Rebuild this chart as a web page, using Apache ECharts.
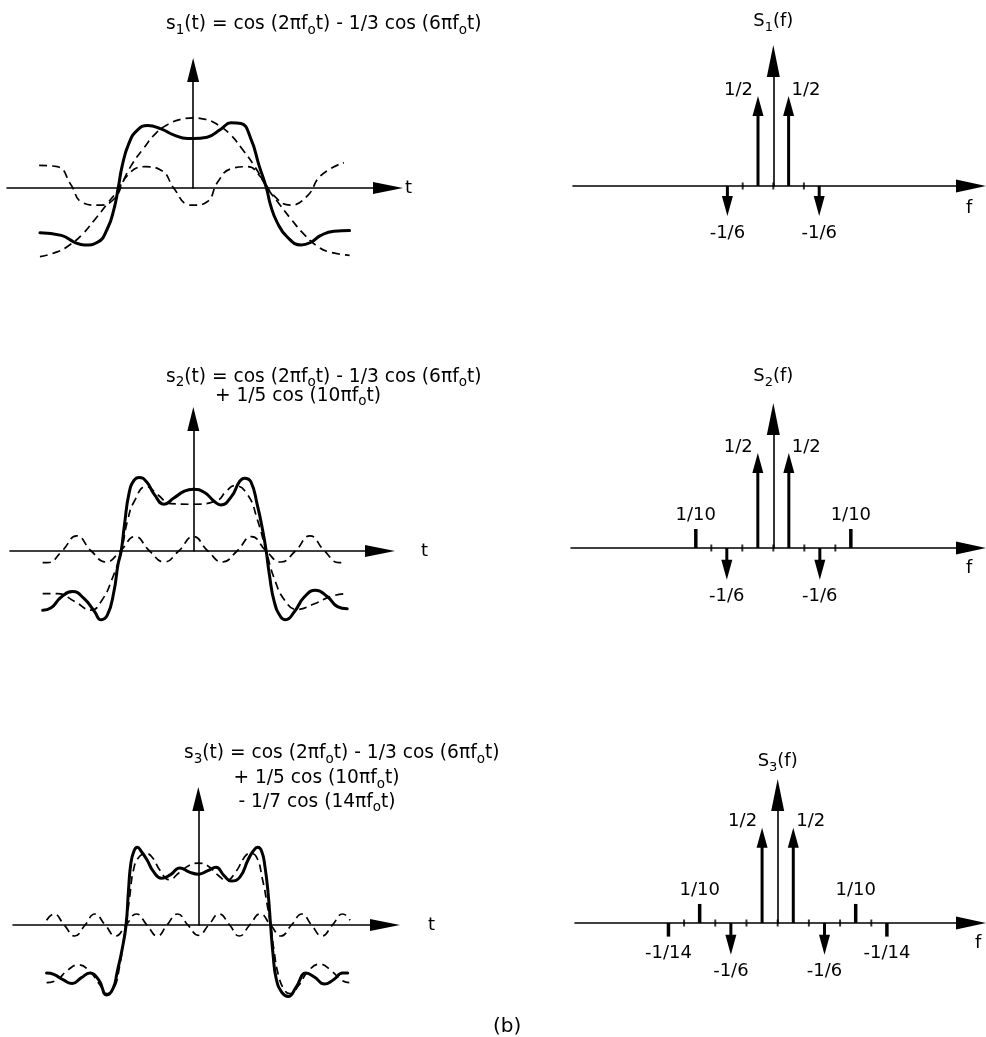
<!DOCTYPE html>
<html><head><meta charset="utf-8">
<script src="https://cdn.jsdelivr.net/npm/echarts@6/dist/echarts.min.js"></script>
<style>html,body{margin:0;padding:0;background:#fff}#c{width:986px;height:1037px}</style>
</head><body><div id="c"></div>
<script>
// ---------- DATA (phase 2*pi*fo*t in degrees, amplitude) ----------
const p1Sum = [[-186,-0.65],[-160,-0.69],[-144,-0.79],[-132,-0.83],[-116,-0.79],[-104,-0.59],[-96,-0.30],[-91,0],[-86,0.33],[-78,0.65],[-68,0.84],[-55,0.91],[-39,0.86],[-23,0.77],[-7,0.72],[0,0.72],[17,0.74],[34,0.86],[46,0.95],[58,0.94],[70,0.72],[80,0.33],[89,0],[94,-0.25],[102,-0.50],[114,-0.71],[131,-0.83],[143,-0.79],[155,-0.69],[171,-0.63],[190,-0.62]];
const p1Cos = [[-186,-1.0],[-165,-0.93],[-150,-0.83],[-135,-0.68],[-120,-0.47],[-105,-0.24],[-90,0],[-75,0.33],[-60,0.58],[-45,0.80],[-30,0.93],[-15,1.0],[0,1.02],[15,1.0],[30,0.92],[45,0.78],[60,0.56],[75,0.31],[90,0],[105,-0.24],[120,-0.47],[135,-0.68],[150,-0.84],[165,-0.93],[190,-0.98]];
const p1H3 = [[-187,0.33],[-165,0.31],[-148,0.04],[-136,-0.2],[-116,-0.25],[-96,-0.16],[-80,0.18],[-59,0.31],[-39,0.26],[-23,-0.01],[-7,-0.24],[0,-0.25],[17,-0.2],[30,0.09],[46,0.28],[66,0.31],[82,0.16],[98,-0.11],[118,-0.25],[139,-0.11],[155,0.18],[183,0.37]];

const p2Sum = [[-186,-0.86],[-176,-0.83],[-163,-0.67],[-149,-0.59],[-135,-0.69],[-122,-0.88],[-114,-1.0],[-106,-0.93],[-98,-0.59],[-93,-0.2],[-89,0],[-85,0.38],[-79,0.86],[-73,1.03],[-67,1.07],[-58,1.01],[-48,0.82],[-36,0.68],[-24,0.77],[-11,0.87],[0,0.90],[14,0.85],[26,0.72],[34,0.67],[47,0.79],[57,1.01],[63,1.06],[71,1.01],[79,0.67],[86,0.28],[90,0],[94,-0.35],[100,-0.74],[108,-0.96],[114,-1.0],[125,-0.88],[137,-0.67],[151,-0.57],[166,-0.67],[178,-0.81],[190,-0.84]];
const p2Prev = [[-186,-0.62],[-168,-0.62],[-147,-0.73],[-126,-0.86],[-113,-0.72],[-100,-0.40],[-89,0],[-81,0.45],[-73,0.72],[-58,0.94],[-44,0.82],[-28,0.69],[0,0.68],[30,0.74],[40,0.86],[51,0.95],[67,0.82],[79,0.46],[90,0],[100,-0.40],[113,-0.72],[128,-0.85],[149,-0.77],[170,-0.66],[190,-0.62]];
const p2H5 = [[-186,-0.17],[-180,-0.17],[-162,0],[-144,0.22],[-126,0],[-108,-0.16],[-90,0],[-72,0.21],[-54,0],[-36,-0.16],[-18,0],[0,0.21],[18,0],[36,-0.16],[54,0],[72,0.21],[90,0],[108,-0.16],[126,0],[144,0.22],[162,0],[180,-0.17],[187,-0.16]];

const p3Sum = [[-189,-0.70],[-180,-0.72],[-168,-0.80],[-157,-0.85],[-146,-0.77],[-135,-0.70],[-124,-0.80],[-114,-1.02],[-106,-0.92],[-101,-0.68],[-95,-0.36],[-90,0],[-87,0.5],[-84,0.9],[-80,1.08],[-76,1.13],[-71,1.07],[-64,0.95],[-56,0.78],[-46,0.68],[-35,0.73],[-23,0.83],[-11,0.77],[0,0.74],[12,0.79],[22,0.84],[32,0.72],[41,0.64],[52,0.70],[62,0.95],[68,1.07],[74,1.13],[79,1.07],[83,0.85],[87,0.45],[90,0],[93,-0.42],[97,-0.78],[104,-0.98],[112,-1.04],[122,-0.9],[134,-0.70],[145,-0.76],[157,-0.86],[168,-0.80],[180,-0.70],[186,-0.70]];
const p3Prev = [[-189,-0.84],[-176,-0.80],[-163,-0.66],[-149,-0.58],[-135,-0.68],[-122,-0.88],[-113,-1.0],[-105,-0.92],[-98,-0.6],[-93,-0.22],[-90,0],[-86,0.36],[-80,0.84],[-73,1.0],[-65,1.04],[-57,0.98],[-48,0.8],[-36,0.66],[-24,0.76],[-11,0.87],[0,0.9],[12,0.86],[25,0.72],[35,0.65],[47,0.78],[57,0.98],[64,1.04],[72,1.0],[80,0.66],[86,0.28],[90,0],[94,-0.35],[100,-0.74],[108,-0.96],[114,-1.0],[125,-0.88],[137,-0.67],[151,-0.57],[166,-0.67],[178,-0.8],[188,-0.84]];
const p3H7 = [[-189,0.07],[-180,0.16],[-167,0],[-154,-0.16],[-141,0],[-129,0.16],[-116,0],[-103,-0.16],[-90,0],[-77,0.16],[-64,0],[-51,-0.16],[-39,0],[-26,0.16],[-13,0],[0,-0.15],[13,0],[26,0.16],[39,0],[51,-0.16],[64,0],[77,0.16],[90,0],[103,-0.16],[116,0],[129,0.16],[141,0],[154,-0.16],[167,0],[180,0.16],[189,0.07]];

// spectra: harmonic number (multiples of fo), amplitude, label
const s1Freq = [-3,-1,1,3];
const s1Amp  = [-1/6,1/2,1/2,-1/6];
const s1Lab  = ['-1/6','1/2','1/2','-1/6'];
const s1Ticks = [-2,0,2];
const s2Freq = [-5,-3,-1,1,3,5];
const s2Amp  = [1/10,-1/6,1/2,1/2,-1/6,1/10];
const s2Lab  = ['1/10','-1/6','1/2','1/2','-1/6','1/10'];
const s2Ticks = [-4,-2,0,2,4];
const s3Freq = [-7,-5,-3,-1,1,3,5,7];
const s3Amp  = [-1/14,1/10,-1/6,1/2,1/2,-1/6,1/10,-1/14];
const s3Lab  = ['-1/14','1/10','-1/6','1/2','1/2','-1/6','1/10','-1/14'];
const s3Ticks = [-6,-4,-2,0,2,4,6];

// texts
const eq1  = '{n|s}{s|1}{n|(t) = cos (2πf}{s|o}{n|t) - 1/3 cos (6πf}{s|o}{n|t)}';
const eq2a = '{n|s}{s|2}{n|(t) = cos (2πf}{s|o}{n|t) - 1/3 cos (6πf}{s|o}{n|t)}';
const eq2b = '{n|+ 1/5 cos (10πf}{s|o}{n|t)}';
const eq3a = '{n|s}{s|3}{n|(t) = cos (2πf}{s|o}{n|t) - 1/3 cos (6πf}{s|o}{n|t)}';
const eq3b = '{n|+ 1/5 cos (10πf}{s|o}{n|t)}';
const eq3c = '{n|- 1/7 cos (14πf}{s|o}{n|t)}';
const specNames = ['{n|S}{s|1}{n|(f)}','{n|S}{s|2}{n|(f)}','{n|S}{s|3}{n|(f)}'];
const timeName = 't';
const freqName = '{n|f}';
const caption = '{c|(b)}';

// ---------- STYLE / LAYOUT ----------
const FONT = 'DejaVu Sans';
const INK = '#000';
const RICH = {
  n: {fontFamily: FONT, fontSize: 18, fontWeight: 'normal', lineHeight: 22, verticalAlign: 'top', color: INK},
  s: {fontFamily: FONT, fontSize: 13, fontWeight: 'normal', lineHeight: 13, verticalAlign: 'bottom', color: INK}
};
const RICH_EQ = {
  n: {fontFamily: FONT, fontSize: 18.6, fontWeight: 'normal', lineHeight: 22, verticalAlign: 'top', color: INK},
  s: {fontFamily: FONT, fontSize: 13.5, fontWeight: 'normal', lineHeight: 13, verticalAlign: 'bottom', color: INK},
  c: {fontFamily: FONT, fontSize: 20, fontWeight: 'normal', lineHeight: 22, verticalAlign: 'top', color: INK}
};
const TP = [
  {left: 7,  top: 70,  width: 381, height: 118, xmin: -226,   xmax: 236.6, ymax: 1.718, gap: 17},
  {left: 10, top: 419, width: 370, height: 132, xmin: -226.3, xmax: 230.5, ymax: 1.92,  gap: 41},
  {left: 13, top: 799, width: 372, height: 126, xmin: -230.8, xmax: 232.5, ymax: 1.834, gap: 43}
];
const FP = [
  {left: 573, top: 61,  width: 398, height: 125, xmin: -13.09, xmax: 12.92, ymax: 0.694, gap: 27},
  {left: 571, top: 419, width: 400, height: 129, xmin: -13.05, xmax: 12.75, ymax: 0.679, gap: 30},
  {left: 575, top: 795, width: 396, height: 128, xmin: -12.99, xmax: 12.39, ymax: 0.672, gap: 21}
];

const grids = [], xAxes = [], yAxes = [], series = [];
function axisLine(sym) {
  return {show: true, onZero: true, symbol: ['none', 'triangle'], symbolSize: sym, lineStyle: {color: INK, width: 1.6}};
}
const hidden = {axisTick: {show: false}, axisLabel: {show: false}, splitLine: {show: false}};

TP.forEach((g, i) => {
  grids.push({left: g.left, top: g.top, width: g.width, height: g.height, containLabel: false});
  xAxes.push(Object.assign({gridIndex: i, type: 'value', min: g.xmin, max: g.xmax, axisLine: axisLine([12, 30]),
    name: timeName, nameLocation: 'end', nameGap: g.gap,
    nameTextStyle: {fontFamily: FONT, fontSize: 18, fontWeight: 'normal', color: INK, verticalAlign: 'middle'}}, hidden));
  yAxes.push(Object.assign({gridIndex: i, type: 'value', min: 0, max: g.ymax, axisLine: axisLine([12, 24])}, hidden));
});
FP.forEach((g, j) => {
  const i = j + 3;
  grids.push({left: g.left, top: g.top, width: g.width, height: g.height, containLabel: false});
  xAxes.push(Object.assign({gridIndex: i, type: 'value', min: g.xmin, max: g.xmax, axisLine: axisLine([13, 30])}, hidden));
  yAxes.push(Object.assign({gridIndex: i, type: 'value', min: 0, max: g.ymax, axisLine: axisLine([13, 32]),
    name: specNames[j], nameLocation: 'end', nameGap: g.gap,
    nameTextStyle: {rich: RICH, fontWeight: 'normal', align: 'center'}}, hidden));
});

function curve(idx, data, solid) {
  series.push({
    type: 'line', xAxisIndex: idx, yAxisIndex: idx, data: data, showSymbol: false, symbol: 'none',
    smooth: 0.5, clip: false, silent: true, z: solid ? 4 : 3,
    lineStyle: solid ? {color: INK, width: 3, cap: 'round', join: 'round'} : {color: INK, width: 1.7, type: [8, 5]}
  });
}
curve(0, p1Cos, false); curve(0, p1H3, false); curve(0, p1Sum, true);
curve(1, p2Prev, false); curve(1, p2H5, false); curve(1, p2Sum, true);
curve(2, p3Prev, false); curve(2, p3H7, false); curve(2, p3Sum, true);

function impulses(idx, freq, amp, labels, ticks) {
  series.push({
    type: 'custom', xAxisIndex: idx, yAxisIndex: idx, clip: false, silent: true, z: 5,
    data: freq.map((f, k) => [f, amp[k]]),
    renderItem: function (params, api) {
      const f = api.value(0), v = api.value(1);
      const p0 = api.coord([f, 0]), p1 = api.coord([f, v]);
      const s = v > 0 ? 1 : -1;
      const children = [];
      if (Math.abs(v) > 0.15) {
        const hl = 20, hw = 5.5;
        children.push({type: 'line', shape: {x1: p0[0], y1: p0[1], x2: p1[0], y2: p1[1] + s * hl * 0.6}, style: {stroke: INK, lineWidth: 3}});
        children.push({type: 'polygon', shape: {points: [[p1[0], p1[1]], [p1[0] - hw, p1[1] + s * hl], [p1[0] + hw, p1[1] + s * hl]]}, style: {fill: INK}});
      } else {
        children.push({type: 'line', shape: {x1: p0[0], y1: p0[1], x2: p1[0], y2: p1[1]}, style: {stroke: INK, lineWidth: 3.5}});
      }
      let x, y, align;
      if (Math.abs(f) === 1) {
        align = f < 0 ? 'right' : 'left'; x = f < 0 ? p1[0] - 5 : p1[0] + 3; y = p1[1] - 6;
      } else {
        align = 'center'; x = p1[0]; y = v > 0 ? p1[1] - 14 : p1[1] + 17;
      }
      children.push({type: 'text', x: x, y: y, style: {text: labels[params.dataIndex], fill: INK, font: '18px "DejaVu Sans"', align: align, verticalAlign: 'middle'}});
      return {type: 'group', children: children};
    }
  });
  series.push({
    type: 'scatter', xAxisIndex: idx, yAxisIndex: idx, clip: false, silent: true, z: 5,
    data: ticks.map(f => [f, 0]), symbol: 'rect', symbolSize: [2, 7], itemStyle: {color: INK}
  });
}
impulses(3, s1Freq, s1Amp, s1Lab, s1Ticks);
impulses(4, s2Freq, s2Amp, s2Lab, s2Ticks);
impulses(5, s3Freq, s3Amp, s3Lab, s3Ticks);

function T(text, left, cy, rich) {
  return {text: text, left: left, top: cy - 8.5, padding: 0,
    textStyle: {rich: rich || RICH, fontFamily: FONT, fontSize: 18, fontWeight: 'normal', color: INK}};
}
const titles = [
  T(eq1, 166, 23.5, RICH_EQ),
  T(eq2a, 166, 376, RICH_EQ), T(eq2b, 215, 395, RICH_EQ),
  T(eq3a, 184, 752.5, RICH_EQ), T(eq3b, 233.5, 777.5, RICH_EQ), T(eq3c, 238.5, 801, RICH_EQ),
  T(freqName, 966, 208), T(freqName, 966, 568), T(freqName, 975, 943),
  T(caption, 493, 1025, RICH_EQ)
];

const chart = echarts.init(document.getElementById('c'), null, {renderer: 'canvas'});
chart.setOption({
  backgroundColor: '#fff', animation: false,
  title: titles, grid: grids, xAxis: xAxes, yAxis: yAxes, series: series
});
</script></body></html>
